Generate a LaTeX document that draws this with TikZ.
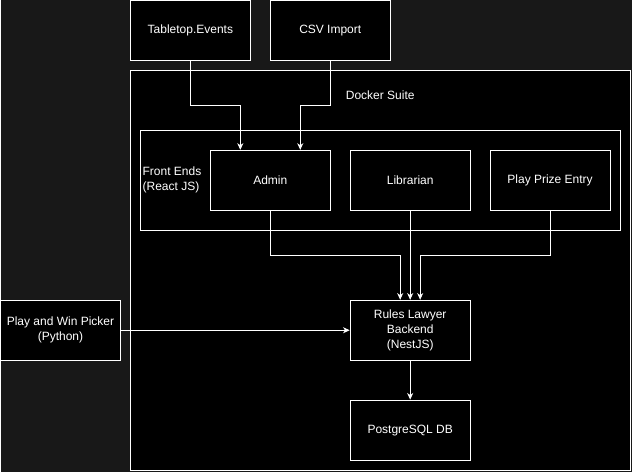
\documentclass[tikz,border=0pt]{standalone}
\usepackage{fontspec}
\setmainfont{Liberation Sans}
\usetikzlibrary{arrows.meta}
\definecolor{bgdark}{RGB}{24,24,24}

\begin{document}
\begin{tikzpicture}[x=0.75pt,y=-0.75pt]
	\tikzstyle{every node}=[font=\fontsize{9}{11.25}\selectfont,text=white,inner sep=0pt]
	\tikzstyle{box}=[draw=white,fill=black,line width=0.75pt,minimum width=90pt,minimum height=45pt,align=center]
	\tikzstyle{group}=[draw=white,fill=black,line width=0.75pt]
	\tikzstyle{link}=[draw=white,line width=0.75pt,-{Stealth[length=5pt,width=4.5pt,inset=1.5pt]}]
	\fill[bgdark] (0,0) rectangle (632,472);
	% containers
	\node[group,minimum width=375pt,minimum height=300pt] (docker) at (380,270) {};
	\node (dockerlabel) at (380,95) {Docker Suite};
	\node[group,minimum width=360pt,minimum height=75pt] (frontends) at (380,180) {};
	\node[anchor=west,align=left] (frontlabel) at (142,180) {Front Ends\\(React JS)};
	% boxes
	\node[box] (events) at (190,30) {Tabletop.Events};
	\node[box] (csv) at (330,30) {CSV Import};
	\node[box] (admin) at (270,180) {Admin};
	\node[box] (librarian) at (410,180) {Librarian};
	\node[box] (prize) at (550,180) {Play Prize Entry};
	\node[box] (backend) at (410,330) {Rules Lawyer\\Backend\\(NestJS)};
	\node[box] (db) at (410,430) {PostgreSQL DB};
	\node[box] (picker) at (60,330) {Play and Win Picker\\(Python)};
	% links
	\draw[link] (events.south) -- ++(0,45) -| ([xshift=-22.5pt]admin.north);
	\draw[link] (csv.south) -- ++(0,45) -| ([xshift=22.5pt]admin.north);
	\draw[link] (admin.south) -- ++(0,45) -| ([xshift=-7.5pt]backend.north);
	\draw[link] (librarian.south) -- (backend.north);
	\draw[link] (prize.south) -- ++(0,45) -| ([xshift=7.5pt]backend.north);
	\draw[link] (picker) -- (backend);
	\draw[link] (backend) -- (db);
\end{tikzpicture}
\end{document}
